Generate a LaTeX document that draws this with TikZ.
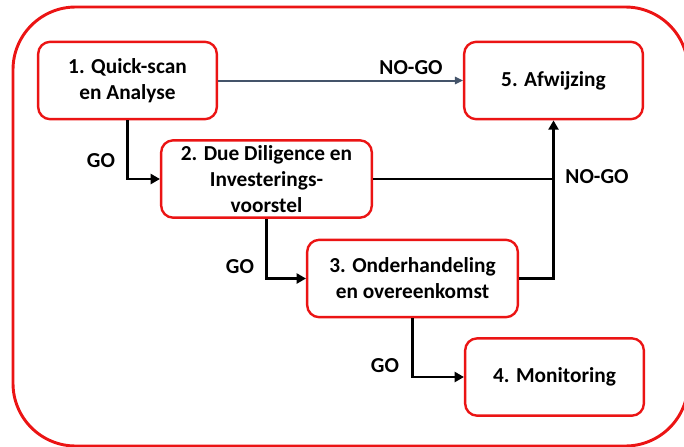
\documentclass[tikz,border=0pt]{standalone}
\usepackage{fontspec}
\setmainfont{Carlito}
\usepackage{xcolor}
\usetikzlibrary{arrows.meta,positioning}

\definecolor{frame red}{RGB}{235,20,20}
\definecolor{nogo grey}{RGB}{68,84,106}

\tikzset{
    phase/.style={draw=frame red, line width=1.8pt, rounded corners=9pt, fill=white,
        minimum width=134pt, minimum height=58pt, align=center,
        font=\fontsize{16}{19.5}\selectfont\bfseries},
    wide phase/.style={phase, minimum width=158pt},
    flow/.style={line width=2.2pt, -{Triangle[length=7pt,width=7.5pt]}},
    decision/.style={font=\fontsize{16}{19.5}\selectfont\bfseries}
}

\begin{document}
\begin{tikzpicture}[x=0.75pt, y=-0.75pt]
\useasboundingbox (0,0) rectangle (684,446);

% outer frame
\draw[frame red, line width=2.2pt, rounded corners=47pt] (13,7) rectangle (688,446);

% phases
\node[phase] (scan) at (127.5,80.5) {1. Quick-scan\\en Analyse};
\node[phase] (afwijzing) at (553.5,80.5) {5. Afwijzing};
\node[wide phase] (diligence) at (266.5,179) {2. Due Diligence en\\Investerings-\\voorstel};
\node[wide phase] (onderhandeling) at (412.5,278.5) {3. Onderhandeling\\en overeenkomst};
\node[phase] (monitoring) at (554.5,377) {4. Monitoring};

% GO paths
\draw[flow] (scan.south) |- (diligence.west);
\draw[flow] (diligence.south) |- (onderhandeling.west);
\draw[flow] (onderhandeling.south) |- (monitoring.west);

% NO-GO paths
\draw[flow, line width=1.5pt, nogo grey, -{Triangle[length=6pt,width=5.5pt]}] (scan.east) -- (afwijzing.west);
\draw[flow] (onderhandeling.east) -| (afwijzing.south);
\draw[line width=2.2pt] (diligence.east) -- (diligence.east -| afwijzing.south);

% labels
\node[decision] (go1) at (101,161) {GO};
\node[decision] (go2) at (240,267) {GO};
\node[decision] (go3) at (385,366) {GO};
\node[decision] (nogo1) at (411,68) {NO-GO};
\node[decision] (nogo2) at (597,177) {NO-GO};
\end{tikzpicture}
\end{document}
